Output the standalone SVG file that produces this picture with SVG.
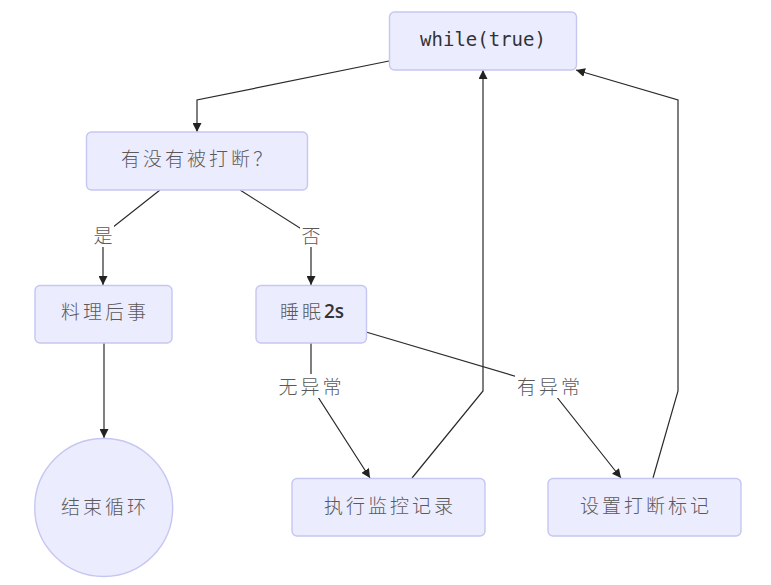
<svg xmlns="http://www.w3.org/2000/svg" width="771" height="585" viewBox="0 0 771 585">
<defs>
<marker id="arr" viewBox="0 0 10 10" refX="10" refY="5" markerWidth="9" markerHeight="9" markerUnits="userSpaceOnUse" orient="auto">
<path d="M0,0 L10,5 L0,10 z" fill="#222"/>
</marker>
<style>
.node{fill:#ECECFF;stroke:#c6c6f2;stroke-width:1.4}
.t{font-family:"Noto Sans CJK SC","Noto Sans",sans-serif;font-size:19px;letter-spacing:3px;fill:#5a5a5a;text-anchor:middle;dominant-baseline:central;font-weight:300}
.mono{font-family:"DejaVu Sans Mono","Liberation Mono",monospace;font-size:19px;fill:#333;text-anchor:middle;dominant-baseline:central}
.lat{font-family:"Open Sans","Liberation Sans",sans-serif;font-weight:600;fill:#333;letter-spacing:0}
.e{fill:none;stroke:#2a2a2a;stroke-width:1.2}
.lb{fill:#fff}
</style>
</defs>
<rect width="771" height="585" fill="#fff"/>
<g id="edges">
<polyline class="e" points="389,61 197,100 197,132" marker-end="url(#arr)"/>
<polyline class="e" points="160,190 103,235 103,285" marker-end="url(#arr)"/>
<polyline class="e" points="240,190 311,235 311,285" marker-end="url(#arr)"/>
<polyline class="e" points="104,343 104,438" marker-end="url(#arr)"/>
<polyline class="e" points="311,343 311,386 370,478" marker-end="url(#arr)"/>
<polyline class="e" points="366,332 548,386 621,478" marker-end="url(#arr)"/>
<polyline class="e" points="412,478 483,391 483,70" marker-end="url(#arr)"/>
<polyline class="e" points="653,478 678,391 678,100 576,70" marker-end="url(#arr)"/>
<g id="edge-labels">
<rect class="lb" x="92" y="224" width="22" height="23"/>
<text class="t" x="104.5" y="234">是</text>
<rect class="lb" x="300" y="224" width="22" height="23"/>
<text class="t" x="312.5" y="234">否</text>
<rect class="lb" x="277" y="374" width="66" height="24"/>
<text class="t" x="311.5" y="385">无异常</text>
<rect class="lb" x="515" y="374" width="67" height="24"/>
<text class="t" x="550" y="385">有异常</text>
</g>
</g>
<g id="n-while">
<rect class="node" x="389.5" y="12" width="187" height="58" rx="5"/>
<text class="mono" x="483" y="39">while(true)</text>
</g>
<g id="n-check">
<rect class="node" x="86.5" y="132" width="221" height="58" rx="5"/>
<text class="t" x="198" y="157.5">有没有被打断？</text>
</g>
<g id="n-cleanup">
<rect class="node" x="35" y="285.5" width="137" height="57.5" rx="5"/>
<text class="t" x="105" y="310.5">料理后事</text>
</g>
<g id="n-sleep">
<rect class="node" x="256" y="285.5" width="110.5" height="57.5" rx="5"/>
<text class="t" x="312" y="310.5">睡眠<tspan class="lat">2s</tspan></text>
</g>
<g id="n-end">
<circle class="node" cx="103.7" cy="507.5" r="69"/>
<text class="t" x="105" y="505">结束循环</text>
</g>
<g id="n-log">
<rect class="node" x="292" y="478.5" width="193" height="57.5" rx="5"/>
<text class="t" x="390" y="504">执行监控记录</text>
</g>
<g id="n-flag">
<rect class="node" x="548" y="478.5" width="193" height="57.5" rx="5"/>
<text class="t" x="646" y="504">设置打断标记</text>
</g>
</svg>
